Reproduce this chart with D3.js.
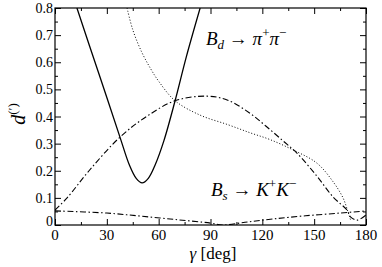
<!DOCTYPE html>
<html>
<head>
<meta charset="utf-8">
<script src="https://cdn.jsdelivr.net/npm/d3@7"></script>
<style>
  body { margin: 0; background: #fff; }
  text { font-family: "Liberation Serif", "Times New Roman", serif; fill: #000; }
</style>
</head>
<body>
<div id="chart"></div>
<script>
// gamma [deg] vs value
var bdSolid = [[12.7, 0.8], [20, 0.66], [30, 0.47], [37.6, 0.324], [43, 0.222], [47, 0.172], [50.4, 0.155], [54, 0.172], [58, 0.222], [63, 0.31], [69.5, 0.458], [76, 0.62], [84, 0.8]]
var bdDotted = [[41.7, 0.8], [45, 0.72], [50, 0.64], [55, 0.58], [60, 0.53], [69.5, 0.458], [84, 0.405], [100, 0.37], [112.9, 0.34], [124.4, 0.315], [137.7, 0.277], [151.6, 0.228], [161, 0.159], [166.7, 0.1], [169.6, 0.048], [171, 0.02]]
var bdDashDot = [[0, 0.055], [7, 0.1], [19.7, 0.2], [37.6, 0.324], [53, 0.4], [69.5, 0.458], [88, 0.475], [100, 0.46], [112.6, 0.413], [122, 0.365], [132, 0.31], [140, 0.265], [151.6, 0.18], [161, 0.103], [169, 0.055], [171, 0.03], [175, 0.018], [180, 0.037]]
var bsDashDot = [[0, 0.052], [30, 0.044], [49, 0.033], [70, 0.02], [90, 0.007], [97, 0], [110, 0.01], [126, 0.022], [145, 0.034], [165, 0.044], [180, 0.052]]

var xMajor = [0, 30, 60, 90, 120, 150, 180]
var xMinor = [15, 45, 75, 105, 135, 165]
var yMajor = [0, 0.1, 0.2, 0.3, 0.4, 0.5, 0.6, 0.7, 0.8]
var yMinor = [0.05, 0.15, 0.25, 0.35, 0.45, 0.55, 0.65, 0.75]

var W = 382
var H = 267
var mLeft = 55, mRight = 366, mTop = 8, mBottom = 225

var svg = d3.select('#chart').append('svg')
  .attr('width', W)
  .attr('height', H)

var x = d3.scaleLinear().domain([0, 180]).range([mLeft, mRight])
var y = d3.scaleLinear().domain([0, 0.8]).range([mBottom, mTop])

// clip the curves to the frame
svg.append('clipPath').attr('id', 'clip')
  .append('rect').attr('x', mLeft).attr('y', mTop).attr('width', mRight - mLeft).attr('height', mBottom - mTop)

var line = d3.line()
  .x(function (d) { return x(d[0]) })
  .y(function (d) { return y(d[1]) })
  .curve(d3.curveCatmullRom.alpha(0.5))

var g = svg.append('g').attr('clip-path', 'url(#clip)')

g.append('path').datum(bdSolid).attr('d', line)
  .attr('fill', 'none').attr('stroke', '#000').attr('stroke-width', 1.3)
g.append('path').datum(bdDotted).attr('d', line)
  .attr('fill', 'none').attr('stroke', '#000').attr('stroke-width', 1).attr('stroke-dasharray', '1,2')
g.append('path').datum(bdDashDot).attr('d', line)
  .attr('fill', 'none').attr('stroke', '#000').attr('stroke-width', 1.1).attr('stroke-dasharray', '6,2.5,1.5,2.5')
g.append('path').datum(bsDashDot).attr('d', line)
  .attr('fill', 'none').attr('stroke', '#000').attr('stroke-width', 1.1).attr('stroke-dasharray', '6,2.5,1.5,2.5')

// axes, ticks pointing in
function ticks (axis, vals, len) { return axis.tickValues(vals).tickSize(len).tickFormat('') }
var sides = [
  [function () { return d3.axisBottom(x) }, 'translate(0,' + mBottom + ')', true],
  [function () { return d3.axisTop(x) }, 'translate(0,' + mTop + ')', true],
  [function () { return d3.axisLeft(y) }, 'translate(' + mLeft + ',0)', false],
  [function () { return d3.axisRight(y) }, 'translate(' + mRight + ',0)', false]
]
sides.forEach(function (s) {
  var major = svg.append('g').attr('transform', s[1])
    .call(ticks(s[0](), s[2] ? xMajor : yMajor, -6))
  var minor = svg.append('g').attr('transform', s[1])
    .call(ticks(s[0](), s[2] ? xMinor : yMinor, -3))
  ;[major, minor].forEach(function (a) {
    a.select('.domain').remove()
    a.selectAll('line').attr('stroke', '#000')
  })
})

svg.append('rect')
  .attr('x', mLeft).attr('y', mTop).attr('width', mRight - mLeft).attr('height', mBottom - mTop)
  .attr('fill', 'none').attr('stroke', '#000').attr('stroke-width', 1.2)

// tick labels
svg.selectAll('.xl').data(xMajor).enter().append('text')
  .attr('x', function (d) { return x(d) })
  .attr('y', 240)
  .attr('text-anchor', 'middle')
  .attr('font-size', 15)
  .text(function (d) { return d })

svg.selectAll('.yl').data(yMajor).enter().append('text')
  .attr('x', mLeft - 2)
  .attr('y', function (d) { return d === 0 ? y(d) + 1 : y(d) + 5 })
  .attr('text-anchor', 'end')
  .attr('font-size', 14)
  .text(function (d) { return d === 0 ? '0' : d3.format('.1f')(d) })

// axis titles
svg.append('text')
  .attr('x', 213).attr('y', 259)
  .attr('text-anchor', 'middle')
  .attr('font-size', 17)
  .html('<tspan font-style="italic">γ</tspan> [deg]')

svg.append('text')
  .attr('transform', 'translate(25,114) rotate(-90)')
  .attr('text-anchor', 'middle')
  .attr('font-size', 20)
  .html('<tspan font-style="italic">d</tspan><tspan dy="-8" font-size="13">(′)</tspan>')

// curve labels
svg.append('text')
  .attr('x', 206).attr('y', 45)
  .attr('font-size', 19)
  .html('<tspan font-style="italic">B</tspan><tspan font-style="italic" font-size="13" dy="4">d</tspan><tspan dy="-4"> → </tspan><tspan font-style="italic">π</tspan><tspan font-size="13" dy="-8">+</tspan><tspan font-style="italic" dy="8">π</tspan><tspan font-size="13" dy="-8">−</tspan>')

svg.append('text')
  .attr('x', 211).attr('y', 196)
  .attr('font-size', 19)
  .html('<tspan font-style="italic">B</tspan><tspan font-style="italic" font-size="13" dy="4">s</tspan><tspan dy="-4"> → </tspan><tspan font-style="italic">K</tspan><tspan font-size="13" dy="-8">+</tspan><tspan font-style="italic" dy="8">K</tspan><tspan font-size="13" dy="-8">−</tspan>')
</script>
</body>
</html>
